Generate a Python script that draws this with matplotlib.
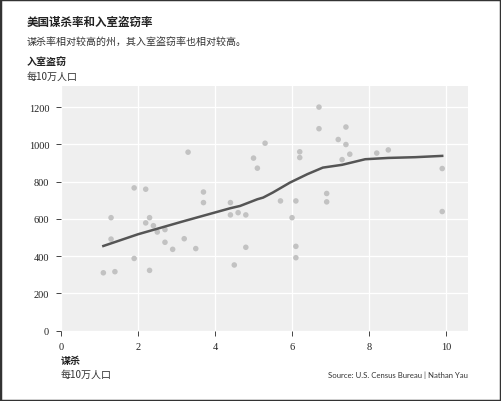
import matplotlib.pyplot as plt
from matplotlib.patches import Rectangle

# murder rate (per 100k) vs burglary rate (per 100k), one point per state
murder = [1.1, 1.3, 1.3, 1.4, 1.9, 1.9, 2.2, 2.2, 2.3, 2.3,
          2.4, 2.5, 2.7, 2.7, 2.9, 3.2, 3.3, 3.5, 3.7, 3.7,
          4.4, 4.4, 4.5, 4.6, 4.8, 4.8, 5.0, 5.1, 5.3, 5.7,
          6.0, 6.1, 6.1, 6.1, 6.2, 6.2, 6.7, 6.7, 6.9, 6.9,
          7.2, 7.3, 7.4, 7.4, 7.5, 8.2, 8.5, 9.9, 9.9]
burglary = [310, 606, 491, 316, 766, 387, 759, 578, 606, 323,
            563, 529, 542, 474, 436, 493, 958, 440, 744, 687,
            687, 621, 352, 633, 621, 447, 926, 872, 1006, 696,
            606, 696, 452, 391, 960, 929, 1200, 1084, 736, 691,
            1026, 918, 1093, 999, 947, 953, 970, 870, 639]

# smoothed trend line
trend_x = [1.1, 2.0, 3.2, 4.4, 4.65, 5.1, 5.25, 5.5, 5.95, 6.4,
           6.8, 7.3, 7.9, 8.5, 9.2, 9.9]
trend_y = [454, 517, 588, 657, 669, 705, 714, 741, 795, 840,
           875, 890, 920, 927, 931, 938]

x_ticks = [0, 2, 4, 6, 8, 10]
y_ticks = [0, 200, 400, 600, 800, 1000, 1200]

CJK = ["Noto Sans CJK SC", "DejaVu Sans"]
W, H = 501, 402


def fy(py):
    return 1 - py / H


def fx(px):
    return px / W


fig = plt.figure(figsize=(W / 100, H / 100), dpi=100)
fig.patch.set_facecolor("white")
fig.patches.append(Rectangle((0, 0), 1, 1, transform=fig.transFigure,
                             fill=False, edgecolor="#333333", linewidth=2.5))

ax = fig.add_axes([fx(61), fy(331.5), fx(468) - fx(61), (331.5 - 86.7) / H])
ax.set_facecolor("#efefef")
for s in ax.spines.values():
    s.set_visible(False)

ax.grid(True, color="white", linewidth=0.9)
ax.set_axisbelow(True)

ax.scatter(murder, burglary, s=16, color="#c2c2c2", edgecolors="none", zorder=2)
ax.plot(trend_x, trend_y, color="#555555", linewidth=1.8, zorder=3)

ax.set_xlim(0, 10.57)
ax.set_ylim(0, 1315)
ax.set_xticks(x_ticks)
ax.set_yticks(y_ticks)
ax.tick_params(direction="out", length=3.5, width=0.7, color="#444444",
               labelsize=7.5, labelcolor="#222222", pad=5)
for lab in ax.get_xticklabels() + ax.get_yticklabels():
    lab.set_fontfamily("Liberation Serif")

fig.text(fx(27), fy(22), "美国谋杀率和入室盗窃率", family=CJK, fontsize=8.3,
         fontweight="bold", color="#222222", va="center")
fig.text(fx(27), fy(42), "谋杀率相对较高的州，其入室盗窃率也相对较高。", family=CJK,
         fontsize=7.2, color="#333333", va="center")
fig.text(fx(27), fy(63), "入室盗窃", family=CJK, fontsize=7.2,
         fontweight="bold", color="#222222", va="center")
fig.text(fx(27), fy(77), "每10万人口", family=CJK, fontsize=7.2,
         color="#333333", va="center")
fig.text(fx(61), fy(361), "谋杀", family=CJK, fontsize=7.2,
         fontweight="bold", color="#222222", va="center")
fig.text(fx(61), fy(375), "每10万人口", family=CJK, fontsize=7.2,
         color="#333333", va="center")
fig.text(fx(468), fy(375), "Source: U.S. Census Bureau | Nathan Yau",
         family="Lato", fontsize=5.6, color="#333333", ha="right", va="center")

fig.savefig("out.png", dpi=100)
